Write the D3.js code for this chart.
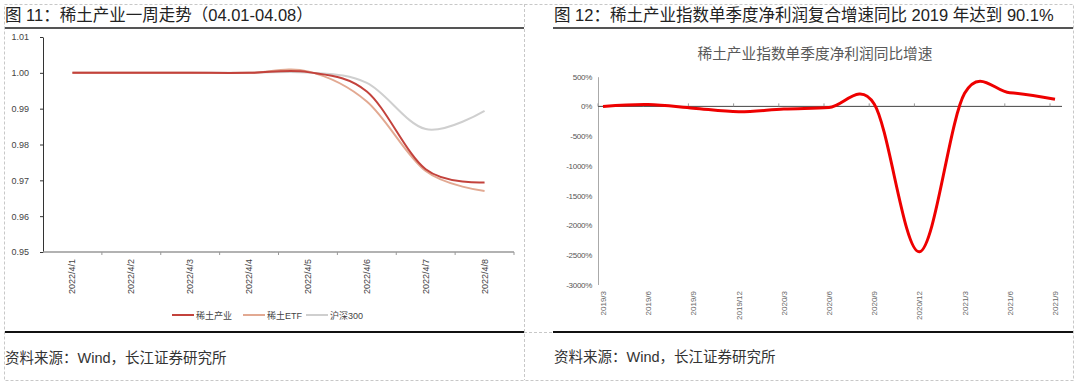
<!DOCTYPE html>
<html>
<head>
<meta charset="utf-8">
<script src="https://cdn.jsdelivr.net/npm/d3@7"></script>
<style>
  body { margin: 0; background: #fff; }
  svg { display: block; font-family: "Liberation Sans", "Noto Sans CJK SC", sans-serif; }
</style>
</head>
<body>
<div id="container"></div>
<script>
/* CONSTANTS AND GLOBALS */
const width = 1080;
const height = 384;
const cjk = "'Liberation Sans', 'Noto Sans CJK SC', sans-serif";

/* DATA */
// left chart: weekly trend
const days = ["2022/4/1", "2022/4/2", "2022/4/3", "2022/4/4", "2022/4/5", "2022/4/6", "2022/4/7", "2022/4/8"];
const rareEarth = [1.0, 1.0, 1.0, 1.0, 1.0002, 0.9948, 0.9731, 0.9694];
const rareEtf = [1.0, 1.0, 1.0, 1.0, 1.0004, 0.9920, 0.9726, 0.9670];
const hs300 = [1.0, 1.0, 1.0, 1.0, 1.0001, 0.9972, 0.9843, 0.9894];
const leftTicks = [0.95, 0.96, 0.97, 0.98, 0.99, 1.00, 1.01];

// right chart: quarterly net profit growth (%)
const quarters = ["2019/3", "2019/6", "2019/9", "2019/12", "2020/3", "2020/6", "2020/9", "2020/12", "2021/3", "2021/6", "2021/9"];
const profitGrowth = [0, 30, -30, -90, -45, -20, 40, -2450, 220, 230, 120];
const rightTicks = [500, 0, -500, -1000, -1500, -2000, -2500, -3000];

const svg = d3.select("#container")
    .append("svg")
    .attr("width", width)
    .attr("height", height);

// PANEL FRAMES (dashed grid)
const frame = svg.append("g")
    .attr("fill", "none")
    .attr("stroke", "#c8c8c8")
    .attr("stroke-width", 1)
    .attr("stroke-dasharray", "3,2");
frame.append("rect").attr("x", 4.5).attr("y", 4.5).attr("width", 1069).attr("height", 376);
frame.append("line").attr("x1", 524.5).attr("x2", 524.5).attr("y1", 4).attr("y2", 380);
frame.append("line").attr("x1", 4).attr("x2", 1073).attr("y1", 332.5).attr("y2", 332.5);

// TITLES + RULES
svg.append("text")
    .attr("x", 5).attr("y", 21)
    .style("font-family", cjk).style("font-size", "16.5px").attr("fill", "#222")
    .text("图 11：稀土产业一周走势（04.01-04.08）");
svg.append("text")
    .attr("x", 554).attr("y", 21)
    .style("font-family", cjk).style("font-size", "16.5px").attr("fill", "#222")
    .text("图 12：稀土产业指数单季度净利润复合增速同比 2019 年达到 90.1%");

svg.append("line").attr("x1", 5).attr("x2", 524).attr("y1", 28).attr("y2", 28)
    .attr("stroke", "#555").attr("stroke-width", 2);
svg.append("line").attr("x1", 553).attr("x2", 1073).attr("y1", 28).attr("y2", 28)
    .attr("stroke", "#555").attr("stroke-width", 2);

svg.append("line").attr("x1", 5).attr("x2", 524).attr("y1", 332).attr("y2", 332)
    .attr("stroke", "#111").attr("stroke-width", 2);
svg.append("line").attr("x1", 553).attr("x2", 1073).attr("y1", 332).attr("y2", 332)
    .attr("stroke", "#111").attr("stroke-width", 2);

svg.append("text")
    .attr("x", 5).attr("y", 363)
    .style("font-family", cjk).style("font-size", "14.5px").attr("fill", "#333")
    .text("资料来源：Wind，长江证券研究所");
svg.append("text")
    .attr("x", 554).attr("y", 362)
    .style("font-family", cjk).style("font-size", "14.5px").attr("fill", "#333")
    .text("资料来源：Wind，长江证券研究所");


//LEFT CHART==============================================================================

const xLeft = d3.scaleBand()
    .domain(days)
    .range([43, 514]);

const yLeft = d3.scaleLinear()
    .domain([0.95, 1.01])
    .range([252, 37]);

// y axis
svg.append("g")
    .attr("transform", "translate(43,0)")
    .call(d3.axisLeft(yLeft).tickValues(leftTicks).tickFormat(d3.format(".2f")).tickSize(3).tickSizeOuter(0))
    .call(g => g.select(".domain").attr("stroke", "#333"))
    .call(g => g.selectAll(".tick line").attr("stroke", "#333"))
    .call(g => g.selectAll("text").attr("fill", "#444").style("font-size", "9px").attr("x", -14));

// x axis (ticks between categories)
const xAxisLeft = svg.append("g")
    .attr("transform", "translate(0,252)");
xAxisLeft.append("line")
    .attr("x1", 43).attr("x2", 514)
    .attr("stroke", "#999").attr("stroke-width", 1.5);
xAxisLeft.selectAll(".tk")
    .data(days)
    .join("line")
    .attr("class", "tk")
    .attr("x1", d => xLeft(d) + xLeft.bandwidth())
    .attr("x2", d => xLeft(d) + xLeft.bandwidth())
    .attr("y1", 0).attr("y2", 3)
    .attr("stroke", "#999");
xAxisLeft.selectAll(".lbl")
    .data(days)
    .join("text")
    .attr("class", "lbl")
    .attr("transform", d => "translate(" + (xLeft(d) + xLeft.bandwidth() / 2 + 3) + ",7) rotate(-90)")
    .attr("text-anchor", "end")
    .style("font-size", "9px")
    .attr("fill", "#444")
    .text(d => d);

// lines
const leftSeries = [
    { name: "稀土产业", values: rareEarth, color: "#c3423c" },
    { name: "稀土ETF", values: rareEtf, color: "#e2a992" },
    { name: "沪深300", values: hs300, color: "#cfcfcf" }
];

const lineLeft = d3.line()
    .x((d, i) => xLeft(days[i]) + xLeft.bandwidth() / 2)
    .y(d => yLeft(d))
    .curve(d3.curveCardinal.tension(0));

svg.selectAll(".lline")
    .data(leftSeries.slice().reverse())
    .join("path")
    .attr("class", "lline")
    .attr("d", d => lineLeft(d.values))
    .attr("fill", "none")
    .attr("stroke", d => d.color)
    .attr("stroke-width", 2);

// legend
const legendX = [172, 243, 306];
const legend = svg.selectAll(".legend")
    .data(leftSeries)
    .join("g")
    .attr("class", "legend")
    .attr("transform", (d, i) => "translate(" + legendX[i] + ",315)");
legend.append("line")
    .attr("x1", 0).attr("x2", 22)
    .attr("stroke", d => d.color).attr("stroke-width", 2);
legend.append("text")
    .attr("x", 24).attr("y", 3.5)
    .style("font-family", cjk).style("font-size", "9px")
    .attr("fill", "#444")
    .text(d => d.name);


//RIGHT CHART==============================================================================

const xRight = d3.scalePoint()
    .domain(quarters)
    .range([603, 1055]);

const yRight = d3.scaleLinear()
    .domain([-3000, 500])
    .range([284.5, 76.7]);

svg.append("text")
    .attr("x", 815).attr("y", 59)
    .attr("text-anchor", "middle")
    .style("font-family", cjk).style("font-size", "14.7px")
    .attr("fill", "#595959")
    .text("稀土产业指数单季度净利润同比增速");

// y axis
svg.append("g")
    .attr("transform", "translate(598,0)")
    .call(d3.axisLeft(yRight).tickValues(rightTicks).tickFormat(d => d + "%").tickSize(0).tickPadding(6))
    .call(g => g.select(".domain").attr("stroke", "#aaa"))
    .call(g => g.selectAll("text").attr("fill", "#555").style("font-size", "8px").style("letter-spacing", "-0.3px"));

// zero line with upward ticks
const zeroAxis = svg.append("g")
    .attr("transform", "translate(0," + yRight(0) + ")");
zeroAxis.append("line")
    .attr("x1", 598).attr("x2", 1062)
    .attr("stroke", "#444").attr("stroke-width", 1);
zeroAxis.selectAll(".tk")
    .data(quarters)
    .join("line")
    .attr("class", "tk")
    .attr("x1", d => xRight(d) - 5)
    .attr("x2", d => xRight(d) - 5)
    .attr("y1", 0).attr("y2", -3)
    .attr("stroke", "#999");

// labels at bottom
svg.selectAll(".qlbl")
    .data(quarters)
    .join("text")
    .attr("class", "qlbl")
    .attr("transform", d => "translate(" + (xRight(d) + 3) + ",291) rotate(-90)")
    .attr("text-anchor", "end")
    .style("font-size", "8px")
    .attr("fill", "#666")
    .text(d => d);

const lineRight = d3.line()
    .x((d, i) => xRight(quarters[i]))
    .y(d => yRight(d))
    .curve(d3.curveCardinal.tension(0));

svg.append("path")
    .attr("d", lineRight(profitGrowth))
    .attr("fill", "none")
    .attr("stroke", "#ee0000")
    .attr("stroke-width", 3);
</script>
</body>
</html>
